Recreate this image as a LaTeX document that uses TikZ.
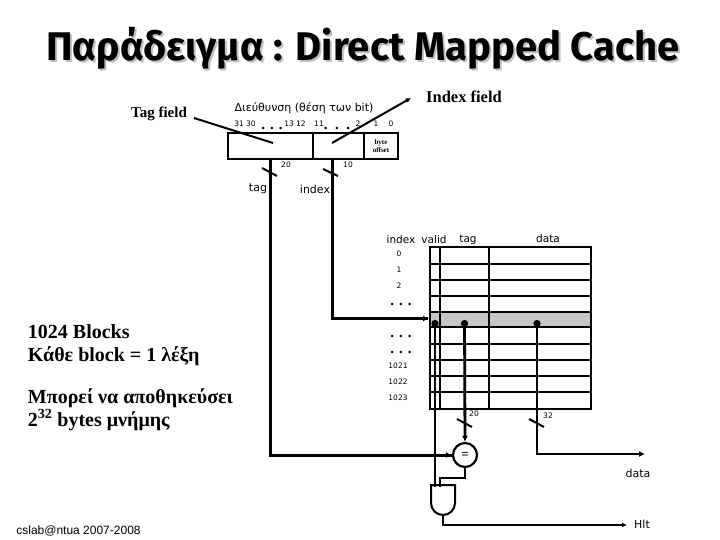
\documentclass[tikz,border=0pt]{standalone}
\usepackage{fontspec}
\setmainfont{Liberation Serif}
\setsansfont{Liberation Sans}
\newfontfamily\uifont{DejaVu Sans}
\newfontfamily\titlefont{Fira Sans}
\usetikzlibrary{positioning,arrows.meta,shapes.gates.logic.US,backgrounds,calc}

\begin{document}
\begin{tikzpicture}[
    x=1pt, y=-1pt,
    line width=1.9pt,
    lbl/.style={font=\uifont\fontsize{10.5}{12}\selectfont, inner sep=0pt},
    biglbl/.style={font=\uifont\fontsize{11}{12}\selectfont, inner sep=0pt},
    bitlbl/.style={font=\uifont\fontsize{7.5}{9}\selectfont, inner sep=0pt},
    dotlbl/.style={font=\bfseries\fontsize{15}{15}\selectfont, inner sep=0pt, anchor=base},
    fieldlbl/.style={font=\bfseries\fontsize{15}{17}\selectfont, inner sep=0pt},
    notelbl/.style={font=\bfseries\fontsize{20}{23.5}\selectfont, inner sep=0pt, align=left, anchor=west},
    titlelbl/.style={font=\titlefont\bfseries\fontsize{40}{44}\selectfont, inner sep=0pt},
    wire/.style={line width=3pt},
    arr/.style={-{Latex[length=6pt,width=6pt]}, line width=2.6pt},
    thinarr/.style={-{Latex[length=5pt,width=5pt]}, line width=2pt},
    dotwire/.style={{Circle[length=7pt,width=7pt]}-, line width=2.8pt},
    slash/.style={line width=2pt},
  ]
    \useasboundingbox (0,0) rectangle (720,540);

    % Title
    \node[titlelbl, text=gray!50] at (365,50) {Παράδειγμα : Direct Mapped Cache};
    \node[titlelbl] (title) at (363,48) {Παράδειγμα : Direct Mapped Cache};

    % Address register
    \draw (228,133) rectangle (398,159);
    \draw (313,133) -- (313,159);
    \draw (364,133) -- (364,159);
    \coordinate (tagin) at (273,143);
    \coordinate (indexin) at (332,143);
    \coordinate (tagstart) at (194,118);
    \coordinate (indexend) at (411,98);
    \node[fieldlbl] (tagfield) at (159,114) {Tag field};
    \node[fieldlbl, font=\bfseries\fontsize{16.5}{18}\selectfont] (indexfield) at (464,97) {Index field};
    \draw[line width=2pt] (tagstart) -- (tagin);
    \draw[thinarr] (indexin) -- (indexend);
    \node[lbl, font=\uifont\fontsize{11}{12}\selectfont] (addr) at (304,108) {Διεύθυνση (θέση των bit)};
    \node[bitlbl] (b31) at (245,124) {31 30};
    \node[bitlbl] (b13) at (295,124) {13 12};
    \node[bitlbl] (b11) at (319,124) {11};
    \node[bitlbl] (b2) at (358,124) {2};
    \node[bitlbl] (b1) at (376,124) {1};
    \node[bitlbl] (b0) at (391,124) {0};
    \node[dotlbl] (dots1) at (272,130) {. . .};
    \node[dotlbl] (dots2) at (337,130) {.~~.~~.};
    \node[font=\bfseries\fontsize{7}{7.5}\selectfont, align=center, inner sep=0pt] (byteoff) at (381,146) {byte\\offset};

    % Cache array
    \fill[gray!45] (431,312) rectangle (590,327);
    \foreach \y in {264,280,296,312,327,344,360,376,392}
      \draw (430,\y) -- (591,\y);
    \draw (430,247) rectangle (591,409);
    \draw (440,247) -- (440,409);
    \draw (489,247) -- (489,409);

    \node[lbl] (hindex) at (401,240) {index};
    \node[lbl] (hvalid) at (434,240) {valid};
    \node[lbl] (htag) at (468,240) {tag};
    \node[lbl] (hdata) at (548,239) {data};
    \node[bitlbl] (r0) at (399,254) {0};
    \node[bitlbl] (r1) at (399,270) {1};
    \node[bitlbl] (r2) at (399,286) {2};
    \node[dotlbl] (r3) at (401,305) {. . .};
    \node[dotlbl] (r4) at (401,337) {. . .};
    \node[dotlbl] (r5) at (401,353) {. . .};
    \node[bitlbl] (r1021) at (398,366) {1021};
    \node[bitlbl] (r1022) at (398,382) {1022};
    \node[bitlbl] (r1023) at (398,398) {1023};

    % Comparator and gate
    \node[draw, circle, minimum size=24pt, inner sep=0pt, line width=2.2pt, font=\bfseries\fontsize{13}{13}\selectfont] (eq) at (465,455) {=};
    \node[and gate US, draw, rotate=-90, minimum width=20pt, minimum height=20pt, inner sep=0pt, line width=2pt, logic gate inputs=nn] (gate) at (443,499) {};
    \coordinate (gatevalid) at (435,487);
    \coordinate (gatecmp) at (439.5,487);
    \coordinate (hitout) at (627,525);
    \coordinate (dataout) at (645,454);

    % Wires
    \coordinate (tagtop) at (270,159);
    \coordinate (idxtop) at (332,159);
    \coordinate (validhit) at (435,320);
    \coordinate (taghit) at (464.5,320);
    \coordinate (datahit) at (537,320);
    \draw[wire] (tagtop) |- (eq.west);
    \draw[arr] (446,455) -- (eq.west);
    \draw[wire] (idxtop) |- (428,318.5);
    \draw[arr] (420,318.5) -- (429,318.5);
    \draw[dotwire] (validhit) -- (gatevalid);
    \draw[dotwire, {Circle[length=7pt,width=7pt]}-{Latex[length=6pt,width=6pt]}] (taghit) -- (eq.north);
    \draw[dotwire, {Circle[length=7pt,width=7pt]}-{Latex[length=6pt,width=6pt]}] (datahit) |- (dataout);
    \draw[line width=2pt] (eq.south) |- (gatecmp |- 0,478) -- (gatecmp);
    \draw[thinarr] (gate.output) |- (hitout);

    % Bus width marks
    \draw[slash] (262,168) -- (277,176);
    \draw[slash] (323,169) -- (338,176);
    \draw[slash] (457,419) -- (472,427);
    \draw[slash] (529,419) -- (544,427);
    \node[bitlbl] (w20a) at (286,165) {20};
    \node[bitlbl] (w10) at (348,165) {10};
    \node[bitlbl] (w20b) at (474,414) {20};
    \node[bitlbl] (w32) at (548,416) {32};

    \node[biglbl] (ltag) at (258,189) {tag};
    \node[biglbl] (lindex) at (315,189) {index};
    \node[biglbl] (ldata) at (638,473) {data};
    \node[biglbl] (lhit) at (642,524) {Hlt};

    % Notes
    \node[notelbl] (note1) at (27,345) {1024 Blocks\\Κάθε block = 1 λέξη};
    \node[notelbl] (note2) at (27,409.5) {Μπορεί να αποθηκεύσει\\2\textsuperscript{32} bytes μνήμης};
    \node[font=\sffamily\fontsize{12}{14}\selectfont, inner sep=0pt] (footer) at (78.5,531) {cslab@ntua 2007-2008};
  \end{tikzpicture}
\end{document}
